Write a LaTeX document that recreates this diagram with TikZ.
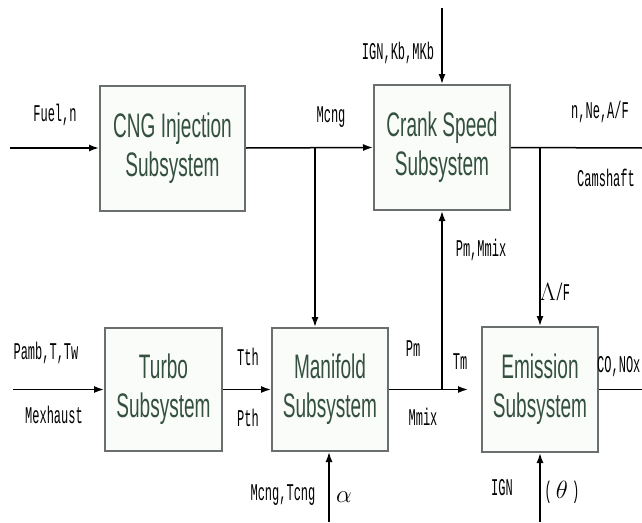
\documentclass[tikz,border=0pt]{standalone}
\usepackage{fontspec}
\usetikzlibrary{arrows.meta}
\newfontfamily\boxfnt[FakeStretch=0.56]{Liberation Sans}
\newfontfamily\labfnt[FakeStretch=0.5]{Liberation Mono}
\definecolor{boxtxt}{HTML}{34503F}
\definecolor{boxline}{HTML}{6A6E6C}
\definecolor{boxfill}{HTML}{FAFCFA}
\tikzset{
  sub/.style={draw=boxline, line width=2pt, fill=boxfill, text=boxtxt,
    font=\boxfnt\fontsize{34}{39}\selectfont, align=center, inner sep=0pt},
  lab/.style={font=\labfnt\fontsize{24}{26}\selectfont, inner sep=0pt},
  conn/.style={line width=1.5pt, draw=black},
  arr/.style={conn, -{Latex[length=10pt,width=7pt]}}
}
\begin{document}
\begin{tikzpicture}[x=1pt,y=-1pt]
\useasboundingbox (0,0) rectangle (642,522);
% boxes
\node[sub, minimum width=145pt, minimum height=125pt] (cng) at (172.5,148) {CNG Injection\\Subsystem};
\node[sub, minimum width=136pt, minimum height=125pt] (crank) at (442,147.5) {Crank Speed\\Subsystem};
\node[sub, minimum width=117pt, minimum height=123pt] (turbo) at (163.5,389.5) {Turbo\\Subsystem};
\node[sub, minimum width=116pt, minimum height=123pt] (mani) at (330,389.5) {Manifold\\Subsystem};
\node[sub, minimum width=116pt, minimum height=125pt] (emis) at (540,389.5) {Emission\\Subsystem};
% coordinates
\coordinate (fuelin) at (10,148);
\coordinate (ignin) at (442,8);
\coordinate (nout) at (642,148);
\coordinate (jn) at (540,148);
\coordinate (jm) at (315,148);
\coordinate (pambin) at (13,389.5);
\coordinate (jp) at (442,389.5);
\coordinate (tmend) at (468,389.5);
\coordinate (coout) at (642,389.5);
\coordinate (alphain) at (329,522);
\coordinate (thetain) at (540,522);
% connectors
\draw[arr] (fuelin) -- (cng.west);
\draw[arr] (cng.east) -- (crank.west);
\draw[arr] (jm) -- (jm |- mani.north);
\draw[arr] (ignin) -- (crank.north);
\draw[conn] (crank.east) -- (nout);
\draw[arr] (jn) -- (emis.north);
\draw[arr] (pambin) -- (turbo.west);
\draw[arr] (turbo.east) -- (mani.west);
\draw[arr] (mani.east) -- (tmend);
\draw[arr] (jp) -- (jp |- crank.south);
\draw[conn] (emis.east) -- (coout);
\draw[arr] (alphain) -- (alphain |- mani.south);
\draw[arr] (thetain) -- (emis.south);
% labels
\node[lab] (lfuel) at (55,115) {Fuel,n};
\node[lab] (lmcng) at (331,117) {Mcng};
\node[lab] (lign) at (398,53) {IGN,Kb,MKb};
\node[lab] (lnne) at (600,112) {n,Ne,A/F};
\node[lab] (lcam) at (606,178) {Camshaft};
\node[lab] (lpmm) at (481,250) {Pm,Mmix};
\node[lab] (laf) at (555,292) {$\Lambda$/F};
\node[lab] (lpamb) at (46,353) {Pamb,T,Tw};
\node[lab] (lmex) at (54,415) {Mexhaust};
\node[lab] (ltth) at (248,357) {Tth};
\node[lab] (lpth) at (248,418) {Pth};
\node[lab] (lpm) at (413,349) {Pm};
\node[lab] (ltm) at (460,362) {Tm};
\node[lab] (lmmix) at (423,417) {Mmix};
\node[lab, anchor=west] (lco) at (597,367) {CO,NOx};
\node[lab] (lmt) at (283,495) {Mcng,Tcng};
\node[lab] (ligb) at (502,488) {IGN};
\node[lab] (lth) at (562,492) {($\,\theta\,$)};
\node[inner sep=0pt, font=\fontsize{26}{28}\selectfont] (lal) at (344,497) {$\alpha$};
\end{tikzpicture}
\end{document}
